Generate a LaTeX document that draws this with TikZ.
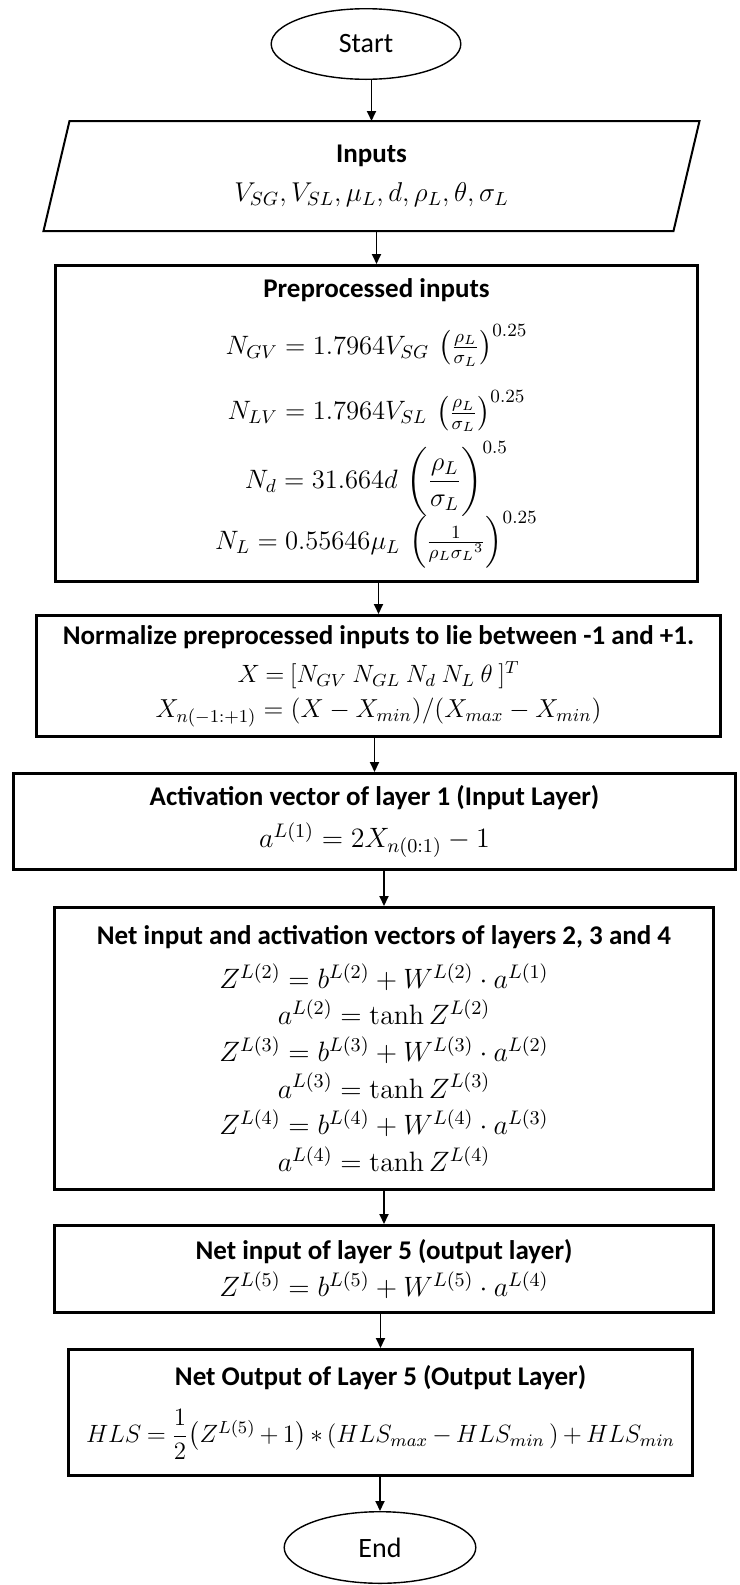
\RequirePackage{fix-cm}
\documentclass[tikz,border=0pt]{standalone}
\usepackage{amsmath}
\usepackage[no-math]{fontspec}
\setmainfont{Carlito}
\usetikzlibrary{arrows.meta, positioning, shapes.geometric}
\newcommand{\ttl}[1]{{\fontsize{13.5}{18.3}\selectfont\bfseries #1}}
\newcommand{\boxfont}{\fontsize{14}{18.3}\selectfont\lineskiplimit=-50pt\relax\lineskip=0pt\relax}
\newcommand{\msz}[2]{{\fontsize{#1}{18.3}\selectfont #2}}

\begin{document}
\begin{tikzpicture}[x=0.5pt, y=-0.5pt,
      box/.style={rectangle, draw, line width=1.5pt, align=center, inner sep=0pt, font=\boxfont},
      io/.style={box, draw=none},
      term/.style={ellipse, draw, line width=0.7pt, inner sep=0pt, font=\fontsize{14}{17}\selectfont},
      arr/.style={-{Triangle[length=5pt, width=4.5pt]}, line width=0.9pt}]
    \useasboundingbox (0,0) rectangle (739,1585);
    \node[term, minimum width=94.8pt, minimum height=35.3pt] (start) at (366,44) {Start};
    \node[io, minimum width=326.5pt, minimum height=53.5pt, below=20.5pt of start, xshift=2.75pt] (inputs)
      {\ttl{Inputs}\\[1pt] \msz{13.6}{$V_{SG}, V_{SL}, \mu_L, d, \rho_L, \theta, \sigma_L$}};
    \draw[line width=1pt] ([xshift=13pt]inputs.north west) -- (inputs.north east)
      -- ([xshift=-13pt]inputs.south east) -- (inputs.south west) -- cycle;
    \node[box, minimum width=321pt, minimum height=158pt, below=16.5pt of inputs, xshift=2.5pt] (prep)
      {\ttl{Preprocessed inputs}\\[10pt]
       \msz{13.3}{$N_{GV} = 1.7964V_{SG}\,\left(\frac{\rho_L}{\sigma_L}\right)^{0.25}$}\\[14.5pt]
       \msz{13.3}{$N_{LV} = 1.7964V_{SL}\,\left(\frac{\rho_L}{\sigma_L}\right)^{0.25}$}\\[16pt]
       \msz{13.3}{$N_d = 31.664d\,\left(\dfrac{\rho_L}{\sigma_L}\right)^{0.5}$}\\[12pt]
       \msz{13.3}{$N_L = 0.55646\mu_L\,\left(\frac{1}{\rho_L{\sigma_L}^3}\right)^{0.25}$}};
    \node[box, minimum width=342pt, minimum height=60.5pt, below=15.5pt of prep, xshift=1pt] (norm)
      {\ttl{Normalize preprocessed inputs to lie between -1 and +1.}\\[1pt]
       \msz{12.5}{$\thickmuskip=4mu X = [N_{GV}\ N_{GL}\ N_d\ N_L\ \theta\ ]^T$}\\[-0.8pt]
       \msz{13}{$X_{n(-1:+1)} = (X - X_{min})/(X_{max} - X_{min})$}};
    \node[box, minimum width=361pt, minimum height=48pt, below=17pt of norm, xshift=-2pt] (act)
      {\ttl{Activation vector of layer 1 (Input Layer)}\\[2.7pt]
       $a^{L(1)} = 2X_{n(0:1)} - 1$};
    \node[box, minimum width=329.5pt, minimum height=141pt, below=17.5pt of act, xshift=4.75pt] (hidden)
      {\ttl{Net input and activation vectors of layers 2, 3 and 4}\\[3.5pt]
       $Z^{L(2)} = b^{L(2)} + W^{L(2)}\cdot a^{L(1)}$\\
       $a^{L(2)} = \tanh Z^{L(2)}$\\
       $Z^{L(3)} = b^{L(3)} + W^{L(3)}\cdot a^{L(2)}$\\
       $a^{L(3)} = \tanh Z^{L(3)}$\\
       $Z^{L(4)} = b^{L(4)} + W^{L(4)}\cdot a^{L(3)}$\\
       $a^{L(4)} = \tanh Z^{L(4)}$};
    \node[box, minimum width=329.5pt, minimum height=43.5pt, below=16.5pt of hidden] (netin)
      {\ttl{Net input of layer 5 (output layer)}\\
       $Z^{L(5)} = b^{L(5)} + W^{L(5)}\cdot a^{L(4)}$};
    \node[box, minimum width=312pt, minimum height=63pt, below=17pt of netin, xshift=-1.75pt] (netout)
      {\ttl{Net Output of Layer 5 (Output Layer)}\\[10.2pt]
       \msz{12.5}{$\medmuskip=3mu\thickmuskip=4mu
         HLS = \dfrac{1}{2}\big(Z^{L(5)} + 1\big) * (HLS_{max} - HLS_{min}\,) + HLS_{min}$}};
    \node[term, minimum width=95.8pt, minimum height=35.8pt, below=17pt of netout, xshift=-0.25pt] (stop) {End};
    \draw[arr] (start.south -| inputs.north) -- (inputs.north);
    \draw[arr] (inputs.south -| prep.north) -- (prep.north);
    \draw[arr] (prep.south -| norm.north) -- (norm.north);
    \draw[arr] (norm.south -| act.north) -- (act.north);
    \draw[arr] (act.south -| hidden.north) -- (hidden.north);
    \draw[arr] (hidden.south -| netin.north) -- (netin.north);
    \draw[arr] (netin.south -| netout.north) -- (netout.north);
    \draw[arr] (netout.south -| stop.north) -- (stop.north);
  \end{tikzpicture}
\end{document}
